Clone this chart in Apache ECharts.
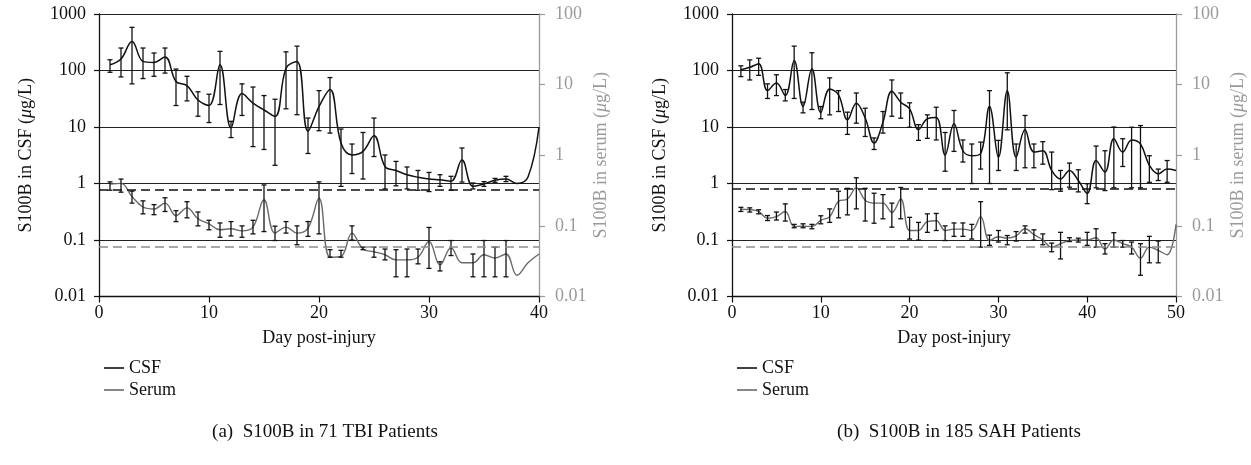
<!DOCTYPE html>
<html><head><meta charset="utf-8">
<script src="https://cdn.jsdelivr.net/npm/echarts@6/dist/echarts.min.js"></script>
<style>html,body{margin:0;padding:0;background:#fff}#c{width:1251px;height:465px}</style>
</head><body><div id="c"></div><script>
// ---------- Data: (a) 71 TBI patients ----------
const daysA = [1,2,3,4,5,6,7,8,9,10,11,12,13,14,15,16,17,18,19,20,21,22,23,24,25,26,27,28,29,30,31,32,33,34,35,36,37,38,39,40];
const csfA   = [126,160,327,145,139,174,64,54,30,24,126,9.6,39,26.5,20,15.4,110,145,8.4,23,46,5.2,3.2,3.7,7.0,2.0,1.7,1.43,1.29,1.2,1.16,1.1,2.6,0.89,0.98,1.14,1.2,1.0,1.3,10];
const csfAHi = [155,250,580,250,204,250,106,79,42,38,218,12.6,58,51,36,31,214,270,14.4,44,75,9.2,5.0,8.0,14.4,3.2,2.46,1.96,1.7,1.57,1.43,1.34,4.25,1.02,1.08,1.23,1.34,null,null,null];
const csfALo = [93,77,58,72,79,90,24,29,15.5,12,25,6.5,16,4.5,4.0,2.1,21,16.5,3.4,8.6,7.8,0.89,1.5,1.2,3.0,0.8,0.91,0.8,0.76,0.72,0.89,0.76,1.06,0.8,0.89,1.05,1.08,null,null,null];
const serumA   = [0.39,0.40,0.26,0.185,0.173,0.21,0.14,0.18,0.126,0.107,0.088,0.091,0.085,0.096,0.234,0.079,0.096,0.079,0.093,0.247,0.036,0.037,0.079,0.047,0.043,0.039,0.033,0.033,0.036,0.06,0.028,0.049,0.030,0.030,0.039,0.035,0.040,0.020,0.030,0.040];
const serumAHi = [0.42,0.46,0.31,0.226,0.2,0.25,0.164,0.22,0.157,0.12,0.11,0.115,0.1,0.12,0.38,0.099,0.115,0.1,0.115,0.42,0.046,0.045,0.1,0.05,0.05,0.047,0.046,0.047,0.047,0.095,0.031,0.062,null,0.04,0.062,0.05,0.062,null,null,null];
const serumALo = [0.32,0.30,0.21,0.148,0.144,0.16,0.115,0.13,0.1,0.088,0.069,0.072,0.069,0.077,0.083,0.062,0.079,0.054,0.071,0.077,0.036,0.036,0.063,0.046,0.036,0.033,0.019,0.019,0.029,0.025,0.023,0.038,null,0.019,0.019,0.019,0.019,null,null,null];
const csfCutA = 0.78;
const serumCutA = 0.05;

// ---------- Data: (b) 185 SAH patients ----------
const daysB = [1,2,3,4,5,6,7,8,9,10,11,12,13,14,15,16,17,18,19,20,21,22,23,24,25,26,27,28,29,30,31,32,33,34,35,36,37,38,39,40,41,42,43,44,45,46,47,48,49,50];
const csfB   = [103,114,131,44,60,36,150,23,107,18,47,37,13.4,26.4,14.4,5.2,12.2,43,27.5,21,9,14,14.8,3.2,11.4,3.8,3.1,3.4,23,2.9,44,2.9,8.9,3.6,3.8,1.7,1.2,1.7,1.13,0.67,2.55,1.6,6.2,3.6,5.9,5.0,2.1,1.48,1.8,1.7];
const csfBHi = [121,154,165,58,84,46,270,27.5,206,23,74,44,18.3,40,21.5,6.4,18.8,68,40,26.8,11,16.4,22.4,8,19.6,5.9,5.0,5.4,44,5.8,91,5,16,5.0,5.5,3.6,1.7,2.3,1.75,0.99,4.6,3.8,10,6.2,9.9,10.6,3.1,1.8,2.55,null];
const csfBLo = [78,68,82,32,36,29,32,17.8,20.4,14,16.4,18.8,7.4,11.7,6.8,4.0,7.8,15.5,14.3,9.9,5.8,6.3,5.9,1.65,3.7,2.4,1.0,1.8,1.0,1.7,8.9,1.7,1.9,1.9,2.2,0.78,0.73,0.86,0.71,0.44,0.84,0.75,0.84,2,0.84,0.84,1.05,1.13,1.05,null];
const serumB   = [0.172,0.17,0.16,0.128,0.135,0.16,0.098,0.099,0.098,0.12,0.135,0.223,0.24,0.345,0.23,0.21,0.21,0.155,0.24,0.086,0.086,0.115,0.118,0.086,0.09,0.09,0.086,0.135,0.062,0.07,0.067,0.072,0.091,0.075,0.063,0.05,0.056,0.062,0.063,0.063,0.068,0.047,0.063,0.056,0.05,0.035,0.05,0.045,0.039,0.105];
const serumBHi = [0.183,0.18,0.169,0.14,0.157,0.205,0.105,0.107,0.105,0.139,0.174,0.31,0.34,0.48,0.34,0.29,0.277,0.21,0.35,0.132,0.112,0.148,0.15,0.1,0.11,0.11,0.105,0.22,0.074,0.086,0.073,0.083,0.1,0.088,0.077,0.057,0.081,0.068,0.067,0.081,0.091,0.056,0.08,0.062,0.059,0.056,0.071,0.061,null,null];
const serumBLo = [0.16,0.157,0.148,0.119,0.121,0.117,0.094,0.094,0.091,0.107,0.112,0.13,0.143,0.174,0.117,0.109,0.126,0.096,0.126,0.065,0.063,0.081,0.086,0.062,0.071,0.071,0.065,0.05,0.053,0.059,0.054,0.061,0.079,0.063,0.054,0.043,0.034,0.06,0.059,0.053,0.05,0.04,0.05,0.05,0.04,0.02,0.03,0.03,null,null];
const csfCutB = 0.82;
const serumCutB = 0.05;

// ---------- Tick labels / texts ----------
const csfTickLabels = ['0.01','0.1','1','10','100','1000'];
const serumTickLabels = ['0.01','0.1','1','10','100'];
const xTitle = 'Day post-injury';
const captionA = '(a)  S100B in 71 TBI Patients';
const captionB = '(b)  S100B in 185 SAH Patients';

const serif = '"Liberation Serif", "DejaVu Serif", serif';
const FS = 18;
const BLACK = '#111';
const GREY_LINE = '#6a6a6a';
const GREY_AX = '#9a9a9a';

function pairs(days, vals){ return days.map((d,i)=>[d, vals[i]]); }
function errData(days, lo, hi){
  const out=[]; days.forEach((d,i)=>{ if(lo[i]!=null && hi[i]!=null) out.push([d, lo[i], hi[i]]); }); return out;
}
function errSeries(xi, yi, data){
  return {
    type:'custom', xAxisIndex:xi, yAxisIndex:yi, silent:true, z:4,
    encode:{x:0, y:[1,2]},
    renderItem:(params, api)=>{
      const x = api.value(0);
      const a = api.coord([x, api.value(1)]);
      const b = api.coord([x, api.value(2)]);
      const w = 2.5;
      const st = {stroke:BLACK, lineWidth:1.3, fill:null};
      return {type:'group', children:[
        {type:'line', shape:{x1:a[0],y1:a[1],x2:b[0],y2:b[1]}, style:st},
        {type:'line', shape:{x1:a[0]-w,y1:a[1],x2:a[0]+w,y2:a[1]}, style:st},
        {type:'line', shape:{x1:b[0]-w,y1:b[1],x2:b[0]+w,y2:b[1]}, style:st}
      ]};
    },
    data
  };
}
function lineSeries(name, xi, yi, data, color, width, cut, cutColor){
  return {
    name, type:'line', xAxisIndex:xi, yAxisIndex:yi, data, smooth:0.4,
    showSymbol:false, symbol:'none', z:3,
    lineStyle:{color, width}, itemStyle:{color},
    markLine:{silent:true, symbol:['none','none'], label:{show:false},
      lineStyle:{color:cutColor, width:1.5, type:[9,5]}, data:[{yAxis:cut}]}
  };
}
const lab = (size,color)=>({fontFamily:serif, fontSize:size, color});
function yName(prefix, color){
  return {
    name: '{n|'+prefix+' (}{i|μ}{n|g/L)}',
    nameTextStyle:{ rich:{ n:lab(FS,color), i:Object.assign(lab(FS,color),{fontStyle:'italic'}) } }
  };
}
function xAx(gi, max){
  return {gridIndex:gi, type:'value', min:0, max, interval:10,
    name:xTitle, nameLocation:'middle', nameGap:33, nameTextStyle:lab(FS,BLACK),
    axisLine:{lineStyle:{color:BLACK, width:1.3}},
    axisTick:{length:6, lineStyle:{color:BLACK, width:1.2}},
    axisLabel:Object.assign(lab(FS,BLACK),{margin:8}),
    splitLine:{show:false}};
}
function yCSF(gi, gap){
  return Object.assign({gridIndex:gi, type:'log', logBase:10, min:0.01, max:1000, splitNumber:5, position:'left',
    nameLocation:'middle', nameRotate:90, nameGap:gap,
    axisLine:{show:true, lineStyle:{color:BLACK, width:1.3}},
    axisTick:{show:true, length:5, lineStyle:{color:BLACK, width:1.2}},
    axisLabel:Object.assign(lab(FS,BLACK),{margin:13, formatter:v=>csfTickLabels[Math.round(Math.log10(v))+2]}),
    splitLine:{show:true, lineStyle:{color:'#222', width:1.1}},
    minorTick:{show:false}, minorSplitLine:{show:false}}, yName('S100B in CSF', BLACK));
}
function ySer(gi, gap){
  return Object.assign({gridIndex:gi, type:'log', logBase:10, min:0.01, max:100, splitNumber:4, position:'right',
    nameLocation:'middle', nameRotate:90, nameGap:gap,
    axisLine:{show:true, lineStyle:{color:GREY_AX, width:1.3}},
    axisTick:{show:true, length:6, lineStyle:{color:GREY_AX, width:1.2}},
    axisLabel:Object.assign(lab(FS,GREY_AX),{margin:16, formatter:v=>serumTickLabels[Math.round(Math.log10(v))+2]}),
    splitLine:{show:false}}, yName('S100B in serum', GREY_AX));
}
function legendAt(left){
  return {left, top:354, orient:'vertical', itemGap:4, itemWidth:20, itemHeight:1.6, selectedMode:false,
    data:[{name:'CSF', icon:'rect'},{name:'Serum', icon:'rect'}], textStyle:lab(FS,BLACK)};
}

const chart = echarts.init(document.getElementById('c'), null, {renderer:'canvas'});
chart.setOption({
  animation:false,
  backgroundColor:'#fff',
  grid:[{left:99, top:14, width:440, height:282.5},{left:732, top:14, width:444, height:282.5}],
  xAxis:[xAx(0,40), xAx(1,50)],
  yAxis:[yCSF(0,64), ySer(0,53), yCSF(1,63), ySer(1,53)],
  legend:[legendAt(99), legendAt(732)],
  title:[
    {text:captionA, left:320, top:418, textAlign:'center', textStyle:Object.assign(lab(19,BLACK),{fontWeight:'normal'})},
    {text:captionB, left:954, top:418, textAlign:'center', textStyle:Object.assign(lab(19,BLACK),{fontWeight:'normal'})}
  ],
  series:[
    lineSeries('CSF',0,0,pairs(daysA,csfA),BLACK,1.5,csfCutA,BLACK),
    lineSeries('Serum',0,1,pairs(daysA,serumA),GREY_LINE,1.4,serumCutA,'#8a8a8a'),
    errSeries(0,0,errData(daysA,csfALo,csfAHi)),
    errSeries(0,1,errData(daysA,serumALo,serumAHi)),
    lineSeries('CSF',1,2,pairs(daysB,csfB),BLACK,1.5,csfCutB,BLACK),
    lineSeries('Serum',1,3,pairs(daysB,serumB),GREY_LINE,1.4,serumCutB,'#8a8a8a'),
    errSeries(1,2,errData(daysB,csfBLo,csfBHi)),
    errSeries(1,3,errData(daysB,serumBLo,serumBHi))
  ]
});
</script></body></html>
